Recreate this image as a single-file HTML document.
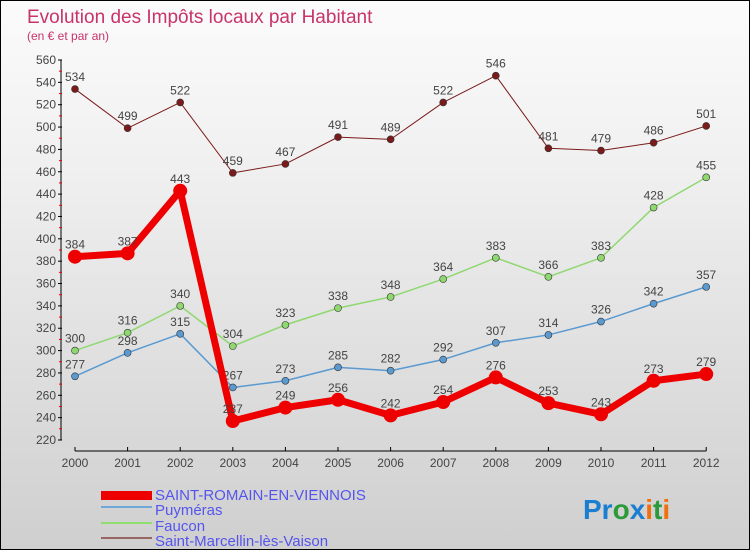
<!DOCTYPE html>
<html><head><meta charset="utf-8"><style>
body{margin:0;width:750px;height:550px;overflow:hidden}
#c{position:relative;width:748px;height:548px;border:1px solid #000;background:linear-gradient(#fbfbfb,#f0f0f0 30%,#cfcfcf);font-family:"Liberation Sans",sans-serif}
</style></head><body>
<div id="c">
<svg id="s" width="748" height="548">
<text x="26" y="22" font-size="19" fill="#c8336a">Evolution des Impôts locaux par Habitant</text>
<text x="26" y="39" font-size="12" fill="#c8336a">(en € et par an)</text>
<g id="g"></g>
<text x="154" y="499" font-size="15" fill="#5555ee">SAINT-ROMAIN-EN-VIENNOIS</text>
<text x="154" y="514" font-size="15" fill="#5555ee">Puyméras</text>
<text x="154" y="530" font-size="15" fill="#5555ee">Faucon</text>
<text x="154" y="545" font-size="15" fill="#5555ee">Saint-Marcellin-lès-Vaison</text>
<rect x="100" y="490" width="51" height="9" fill="#ee0000"/>
<line x1="100" y1="506" x2="151" y2="506" stroke="#6fa8d8" stroke-width="2"/>
<line x1="100" y1="522" x2="151" y2="522" stroke="#90dd70" stroke-width="2"/>
<line x1="100" y1="537" x2="151" y2="537" stroke="#996666" stroke-width="2"/>
<text x="582" y="518" font-size="28" font-weight="bold"><tspan fill="#1a7fd0">Pr</tspan><tspan fill="#2a9a3a">o</tspan><tspan fill="#1a7fd0">x</tspan><tspan fill="#f07010">i</tspan><tspan fill="#2a9a3a">t</tspan><tspan fill="#f07010">i</tspan></text>
</svg></div>
<script>
const years=["2000","2001","2002","2003","2004","2005","2006","2007","2008","2009","2010","2011","2012"];
const yTicks=[220,240,260,280,300,320,340,360,380,400,420,440,460,480,500,520,540,560];
const stRomain=[384,387,443,237,249,256,242,254,276,253,243,273,279];
const puymeras=[277,298,315,267,273,285,282,292,307,314,326,342,357];
const faucon=[300,316,340,304,323,338,348,364,383,366,383,428,455];
const stMarcellin=[534,499,522,459,467,491,489,522,546,481,479,486,501];
const NS="http://www.w3.org/2000/svg",g=document.getElementById('g');
const X=i=>74+i*52.6, Y=v=>59+(560-v)*380/340;
function mk(t,a){const e=document.createElementNS(NS,t);for(const k in a)e.setAttribute(k,a[k]);g.appendChild(e);return e;}
let e=mk('line',{x1:60,y1:Y(560),x2:60,y2:Y(220),stroke:'#000'});

e=mk('line',{x1:X(0),y1:450,x2:X(12),y2:450,stroke:'#000'});

yTicks.forEach(v=>{mk('line',{x1:57,y1:Y(v),x2:61,y2:Y(v),stroke:'#000'});
 if(v<560){mk('line',{x1:58,y1:Y(v+10),x2:61,y2:Y(v+10),stroke:'#e00'});}
 const t=mk('text',{x:55,y:Y(v)+4,'font-size':12,fill:'#444','text-anchor':'end'});t.textContent=v;
 });
years.forEach((y,i)=>{mk('line',{x1:X(i),y1:446,x2:X(i),y2:450,stroke:'#000'});
 const t=mk('text',{x:X(i),y:466,'font-size':12,fill:'#444','text-anchor':'middle'});t.textContent=y;
 });
function series(d,col,w,r,name){
 const p=mk('polyline',{points:d.map((v,i)=>X(i)+','+Y(v)).join(' '),fill:'none',stroke:col,'stroke-width':w,'stroke-linejoin':'round'});
 
 d.forEach((v,i)=>{const c=mk('circle',{cx:X(i),cy:Y(v),r:r,fill:col,stroke:'#333','stroke-width':r>5?0:0.6});
  
  const t=mk('text',{x:X(i),y:Y(v)-8,'font-size':12,fill:'#444','text-anchor':'middle'});t.textContent=v;
  });
}
series(stMarcellin,'#7a1a1a',1,3.5,'saint-marcellin');
series(faucon,'#8fd870',1.5,3.5,'faucon');
series(puymeras,'#5a9ad0',1.5,3.5,'puymeras');
series(stRomain,'#ee0000',7,7,'saint-romain');
</script>
</body></html>
